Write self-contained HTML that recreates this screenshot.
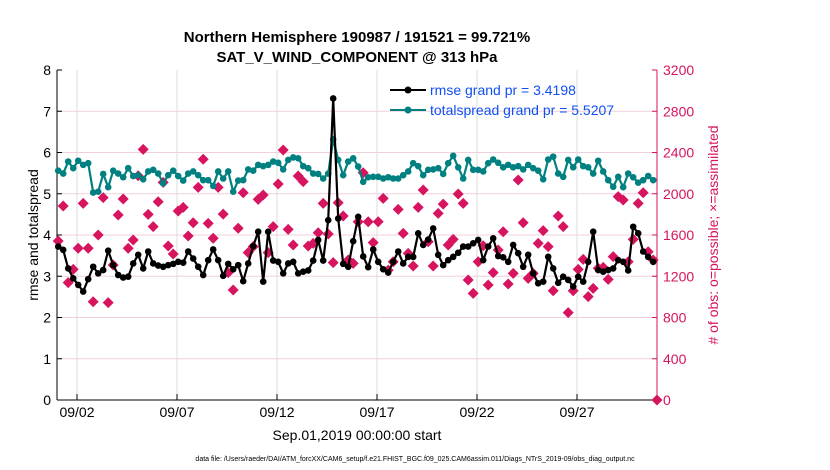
<!DOCTYPE html>
<html><head><meta charset="utf-8">
<style>
html,body{margin:0;padding:0;background:#fff;}
svg{display:block;font-family:"Liberation Sans",Arial,sans-serif;}
</style></head>
<body>
<svg id="chart" width="830" height="470" viewBox="0 0 830 470">
<rect x="0" y="0" width="830" height="470" fill="#fff"/>
<text x="357" y="42" text-anchor="middle" font-size="15" font-weight="bold">Northern Hemisphere 190987 / 191521 = 99.721%</text>
<text x="357" y="62" text-anchor="middle" font-size="15" font-weight="bold">SAT_V_WIND_COMPONENT @ 313 hPa</text>
<g id="grid"></g>
<g id="axes"></g>
<g id="series"></g>
<text transform="translate(38,235) rotate(-90)" text-anchor="middle" font-size="14">rmse and totalspread</text>
<text transform="translate(718,235) rotate(-90)" text-anchor="middle" font-size="14" fill="#d6145f"># of obs: o=possible; ×=assimilated</text>
<text x="357" y="440" text-anchor="middle" font-size="14">Sep.01,2019 00:00:00 start</text>
<text x="415" y="461" text-anchor="middle" font-size="7">data file: /Users/raeder/DAI/ATM_forcXX/CAM6_setup/f.e21.FHIST_BGC.f09_025.CAM6assim.011/Diags_NTrS_2019-09/obs_diag_output.nc</text>
<g>
<line x1="390" y1="90" x2="426" y2="90" stroke="#000" stroke-width="2"/>
<circle cx="408" cy="90" r="3.5" fill="#000"/>
<text x="430" y="95" font-size="14" fill="#1050f0">rmse grand pr = 3.4198</text>
<line x1="390" y1="110" x2="426" y2="110" stroke="#008080" stroke-width="2"/>
<circle cx="408" cy="110" r="3.5" fill="#008080"/>
<text x="430" y="115" font-size="14" fill="#1050f0">totalspread grand pr = 5.5207</text>
</g>
</svg>
<script>
const rmse = [3.72,3.64,3.19,2.95,2.79,2.63,2.93,3.23,3.07,3.15,3.62,3.27,3.03,2.97,2.99,3.31,3.52,3.19,3.60,3.31,3.26,3.23,3.27,3.30,3.35,3.33,3.60,3.43,3.23,3.03,3.39,
3.65,3.39,3.01,3.30,3.17,3.27,2.88,3.31,3.73,4.08,2.87,4.08,3.38,3.35,3.07,3.31,3.35,3.07,3.11,3.14,3.38,3.88,3.38,4.36,7.31,4.40,3.30,3.23,3.85,4.44,
3.48,3.22,3.65,3.35,3.17,3.09,3.35,3.60,3.31,3.47,3.47,4.04,3.76,3.89,4.16,3.52,3.27,3.39,3.47,3.57,3.72,3.72,3.80,3.88,3.39,3.72,3.92,3.49,3.46,3.35,
3.76,3.56,3.23,3.52,3.07,2.83,2.87,3.47,3.19,2.84,2.99,2.91,2.75,2.99,2.87,3.35,4.08,3.15,3.11,3.15,3.19,3.39,3.35,3.14,4.20,4.04,3.60,3.47,3.35];
const spread = [5.56,5.49,5.78,5.62,5.80,5.70,5.74,5.03,5.05,5.48,5.16,5.56,5.49,5.40,5.62,5.43,5.45,5.35,5.54,5.58,5.49,5.25,5.45,5.56,5.43,5.32,5.49,5.54,5.45,5.33,5.33,
5.19,5.54,5.37,5.54,5.05,5.32,5.33,5.59,5.56,5.70,5.67,5.70,5.78,5.75,5.59,5.82,5.88,5.86,5.67,5.62,5.49,5.48,5.37,5.49,6.32,5.82,5.45,5.78,5.86,5.66,
5.29,5.40,5.41,5.41,5.37,5.40,5.37,5.37,5.45,5.54,5.74,5.67,5.45,5.58,5.59,5.62,5.48,5.74,5.92,5.64,5.37,5.82,5.58,5.58,5.54,5.74,5.83,5.75,5.64,5.70,
5.64,5.67,5.59,5.70,5.62,5.56,5.35,5.83,5.90,5.49,5.41,5.82,5.64,5.83,5.67,5.64,5.49,5.80,5.54,5.33,5.17,5.41,5.16,5.49,5.40,5.27,5.33,5.43,5.33];
const obsCount = [1542,1881,1138,1267,1471,1907,1471,953,1600,1962,944,1309,1794,1949,1471,1551,2175,2430,1800,1681,1923,2110,1493,1416,1833,1868,1590,1719,2062,2334,1713,
1568,2062,1803,1235,1067,1665,2010,1429,1487,1946,1988,1429,1681,2094,2424,1655,1503,2172,2117,1493,1519,1622,1907,1610,1332,1913,1784,1357,1325,1729,
2204,1729,1526,1729,1955,1260,1341,1849,1616,1422,1299,1868,2036,1535,1299,1810,1900,1503,1558,1997,1907,1164,1034,1341,1496,1115,1235,1454,1632,1125,
1228,2133,1719,1180,1228,1519,1642,1487,1060,1784,1681,847,1060,1267,1364,1002,1083,1277,1286,1170,1390,1972,1939,1341,1558,1907,2010,1438,1357,0];
const leftTicks = [0,1,2,3,4,5,6,7,8];
const rightTicks = [0,400,800,1200,1600,2000,2400,2800,3200];
const dateTicks = [1,6,11,16,21,26];
const dateLabels = ["09/02","09/07","09/12","09/17","09/22","09/27"];

const NS="http://www.w3.org/2000/svg";
const X0=57,X1=657,Y0=400,Y1=70,DAYS=30;
const xScale=d=>X0+(d/DAYS)*(X1-X0);
const yL=v=>Y0-(v/8)*(Y0-Y1);
const yR=v=>Y0-(v/3200)*(Y0-Y1);
const dayOf=i=>i*0.25+0.06;
function mk(tag,attrs,parent){const e=document.createElementNS(NS,tag);for(const k in attrs)e.setAttribute(k,attrs[k]);parent.appendChild(e);return e;}
const grid=document.getElementById('grid'),axes=document.getElementById('axes'),series=document.getElementById('series');

leftTicks.forEach((t,i)=>{
  const y=yL(t);
  if(t>0&&t<8){const g=mk('line',{x1:X0,x2:X1,y1:y,y2:y,stroke:'#f2cfdc','stroke-width':1},grid);
  
  }
  const tk=mk('line',{x1:X0,x2:X0+5,y1:y,y2:y,stroke:'#000'},axes);
  
  
  const tx=mk('text',{x:X0-6,y:y+5,'text-anchor':'end','font-size':14},axes);
  tx.textContent=t;
  
  
});
rightTicks.forEach(t=>{
  const y=yR(t);
  const tk=mk('line',{x1:X1-5,x2:X1,y1:y,y2:y,stroke:'#d6145f'},axes);
  
  
  const tx=mk('text',{x:X1+6,y:y+5,'font-size':14,fill:'#d6145f'},axes);
  tx.textContent=t;
  
  
});
dateTicks.forEach((d,i)=>{
  const x=xScale(d);
  const g=mk('line',{x1:x,x2:x,y1:Y1,y2:Y0,stroke:'#dcdcdc','stroke-width':1},grid);
  
  
  const tk=mk('line',{x1:x,x2:x,y1:Y0,y2:Y0-6,stroke:'#000'},axes);
  
  
  const tx=mk('text',{x:x,y:417,'text-anchor':'middle','font-size':14},axes);
  tx.textContent=dateLabels[i];
  
  
});
const la=mk('line',{x1:X0,x2:X0,y1:Y1,y2:Y0,stroke:'#000'},axes);


const ba=mk('line',{x1:X0,x2:X1,y1:Y0,y2:Y0,stroke:'#000'},axes);


const ra=mk('line',{x1:X1,x2:X1,y1:Y1,y2:Y0,stroke:'#d6145f'},axes);



obsCount.forEach((c,i)=>{
  if(c==null)return;
  const x=i===obsCount.length-1?X1:xScale(dayOf(i)),y=yR(c),s=5.5;
  const p=mk('polygon',{points:`${x},${y-s} ${x+s},${y} ${x},${y+s} ${x-s},${y}`,fill:'#d6145f'},series);
  
  
});
function line(vals,color,name){
  const pts=vals.map((v,i)=>xScale(dayOf(i))+','+yL(v)).join(' ');
  const pl=mk('polyline',{points:pts,fill:'none',stroke:color,'stroke-width':2.2,'stroke-linejoin':'round'},series);
  
  
  vals.forEach((v,i)=>{
    const c=mk('circle',{cx:xScale(dayOf(i)),cy:yL(v),r:3.3,fill:color},series);
    
    
  });
}
line(spread,'#008080','totalspread');
line(rmse,'#000000','rmse');
</script>
</body></html>
